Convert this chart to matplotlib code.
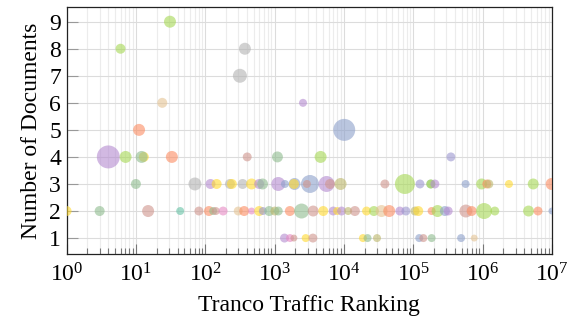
import numpy as np
import matplotlib
matplotlib.use('Agg')
from matplotlib import pyplot as plt
from matplotlib.ticker import FixedLocator, LogFormatterSciNotation, NullFormatter

plt.rcParams['font.family'] = ['Liberation Serif', 'DejaVu Serif']
plt.rcParams['mathtext.fontset'] = 'stix'

# colour names used by the points
palette = {
    'lime': '#a6d854', 'gray': '#b3b3b3', 'tan': '#e5c494', 'purple': '#b48bd0',
    'lavender': '#9c97cf', 'salmon': '#fc8d62', 'blue': '#8da0cb', 'pink': '#e78ac3',
    'yellow': '#ffd92f', 'ggreen': '#8fbc8f', 'rose': '#cf958d', 'olive': '#bdb76b',
    'teal': '#66c2a5',
}

# Tranco ranking of each site
ranking = [
    31,
    6.0, 373,
    316,
    24, 2570,
    11.1, 10100,
    4.0, 7.1, 13, 12.1, 33, 403, 1100, 4610, 349000,
    10, 71, 119, 146, 227, 242, 346, 466, 600, 671, 1130, 1410, 1940, 1900, 3240, 2930,
    5620, 6300, 8950, 39000, 75800, 125000, 178000, 180000, 205000, 569000, 968000,
    1.15e6, 1.23e6, 2.4e6, 5.37e6, 9.9e6,
    1.0, 3.0, 15, 43.5, 81, 113, 130, 142, 181, 299, 364, 466, 600, 678, 836, 1010, 1130,
    1660, 2450, 3600, 5030, 7000, 8000, 9250, 11500, 14400, 21200, 27100, 34900, 45000,
    64100, 78300, 106000, 118000, 184000, 224000, 286000, 319000, 574000, 695000, 1.05e6,
    1.5e6, 4.6e6, 6.3e6, 1e7,
    1390, 1670, 1900, 2810, 3570, 18800, 21900, 30000, 122000, 140000, 184000, 490000, 757000,
]

# number of documents found
documents = (
    [9] + [8] * 2 + [7] + [6] * 2 + [5] * 2 + [4] * 9 + [3] * 32 + [2] * 45 + [1] * 13
)

# marker volume
volume = [
    36,
    25, 36,
    49,
    25, 16,
    36, 121,
    132, 36, 25, 36, 36, 20, 30, 36, 20,
    25, 42, 25, 25, 25, 25, 25, 30, 25, 30, 49, 16, 36, 25, 81, 16,
    64, 25, 36, 20, 100, 20, 20, 20, 20, 16, 30,
    20, 20, 16, 30, 36,
    25, 25, 36, 16, 20, 25, 16, 16, 20, 20, 25, 12, 25, 16, 25, 20, 20,
    25, 56, 30, 25, 20, 16, 20, 16, 25, 20, 25, 36, 36,
    20, 20, 20, 25, 16, 36, 25, 20, 42, 25, 64,
    20, 30, 20, 12,
    20, 16, 12, 16, 20, 16, 16, 16, 16, 16, 16, 16, 12,
]

colour = [
    'lime',
    'lime', 'gray',
    'gray',
    'tan', 'purple',
    'salmon', 'blue',
    'purple', 'lime', 'yellow', 'ggreen', 'salmon', 'rose', 'ggreen', 'lime', 'lavender',
    'ggreen', 'gray', 'purple', 'yellow', 'gray', 'yellow', 'gray', 'yellow', 'purple',
    'ggreen', 'purple', 'blue', 'blue', 'yellow', 'blue', 'rose',
    'purple', 'rose', 'olive', 'rose', 'lime', 'lavender', 'ggreen', 'lime', 'purple',
    'blue', 'lime',
    'salmon', 'olive', 'yellow', 'lime', 'salmon',
    'yellow', 'ggreen', 'rose', 'teal', 'rose', 'salmon', 'ggreen', 'rose', 'pink', 'tan',
    'salmon', 'pink', 'yellow', 'lavender', 'ggreen', 'olive', 'ggreen',
    'salmon', 'ggreen', 'rose', 'yellow', 'purple', 'yellow', 'purple', 'olive', 'rose',
    'yellow', 'lime', 'tan', 'salmon',
    'purple', 'lavender', 'olive', 'yellow', 'salmon', 'lime', 'blue', 'purple', 'rose',
    'salmon', 'lime',
    'lime', 'lime', 'salmon', 'blue',
    'purple', 'pink', 'rose', 'yellow', 'rose', 'yellow', 'ggreen', 'olive', 'blue', 'rose',
    'ggreen', 'blue', 'tan',
]

fig = plt.figure(figsize=(5.69, 3.2), dpi=100)
ax = fig.add_axes([0.117, 0.207, 0.853, 0.770])

ax.scatter(ranking, documents, s=np.array(volume) * 2.07,
           c=[palette[k] for k in colour], alpha=0.6, linewidths=0, zorder=3)

ax.set_xscale('log')
ax.set_xlim(1, 1e7)
ax.set_ylim(0.42, 9.53)
ax.yaxis.set_major_locator(FixedLocator(range(1, 10)))
decades = [10.0 ** k for k in range(8)]
ax.xaxis.set_major_locator(FixedLocator(decades))
ax.xaxis.set_major_formatter(LogFormatterSciNotation())
ax.xaxis.set_minor_locator(FixedLocator([m * d for d in decades[:-1] for m in range(2, 10)]))
ax.xaxis.set_minor_formatter(NullFormatter())

ax.grid(True, which='major', color='#dcdcdc', linewidth=0.8, zorder=0)
ax.grid(True, which='minor', axis='x', color='#ececec', linewidth=0.8, zorder=0)
ax.set_axisbelow(True)

ax.tick_params(axis='x', which='major', direction='in', length=7, width=0.8,
               color='#777777', labelsize=17, pad=7)
ax.tick_params(axis='x', which='minor', direction='in', length=4, width=0.8, color='#777777')
ax.tick_params(axis='y', which='major', direction='in', length=8, width=0.8,
               color='#999999', labelsize=17, pad=4)

for sp in ax.spines.values():
    sp.set_color('#222222')
    sp.set_linewidth(0.9)

ax.set_xlabel('Tranco Traffic Ranking', fontsize=17, labelpad=6)
ax.set_ylabel('Number of Documents', fontsize=17, labelpad=5)

plt.savefig('out.png', dpi=100)
